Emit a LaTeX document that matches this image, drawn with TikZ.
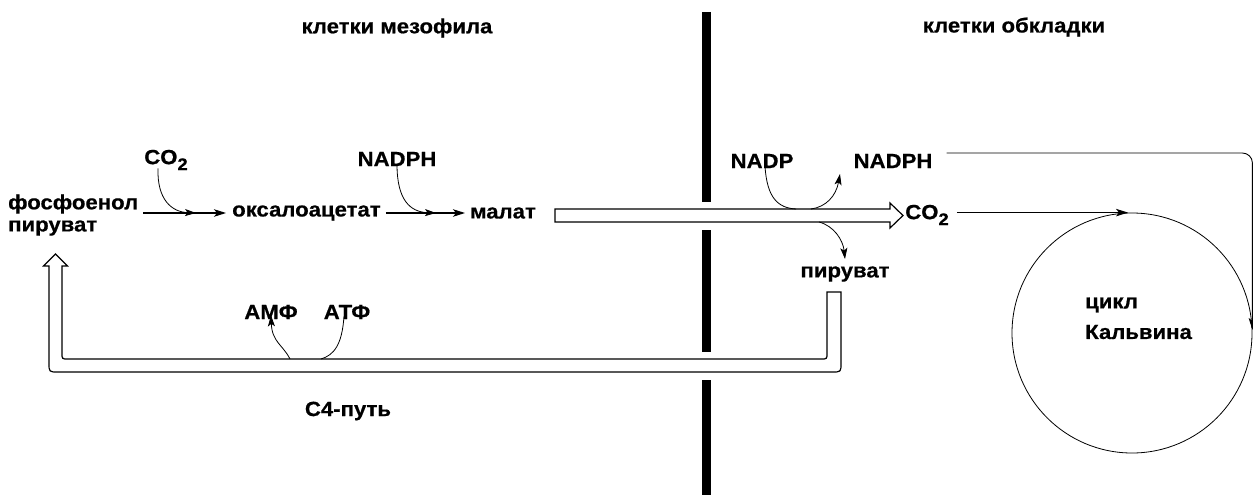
\documentclass[tikz,border=0pt]{standalone}
\usepackage{fontspec}
\setmainfont{Liberation Sans}[FakeStretch=1.08, BoldFeatures={FakeBold=0.6}]
\usetikzlibrary{arrows.meta}
\tikzset{
  lbl/.style={inner sep=0pt, font=\bfseries\fontsize{20.5}{22}\selectfont},
  tube/.style={line width=1.2pt, line join=miter, fill=white},
  arr/.style={line width=1.1pt, -{Stealth[length=12pt,width=7.5pt,inset=3pt]}},
  carr/.style={line width=0.8pt, -{Stealth[length=11pt,width=7pt,inset=2.5pt]}},
  cline/.style={line width=0.8pt},
  wall/.style={line width=9pt, line cap=butt}
}
\newcommand{\cotwo}{CO\raisebox{-6pt}{\fontsize{17}{17}\selectfont 2}}
\begin{document}
\begin{tikzpicture}[x=1pt,y=-1pt]
\useasboundingbox (0,0) rectangle (1253,495);
% membrane wall
\draw[wall] (706.5,12) -- (706.5,202);
\draw[wall] (706.5,230) -- (706.5,352);
\draw[wall] (706.5,380) -- (706.5,495);
% headers
\node[lbl] (mes) at (397,28) {клетки мезофила};
\node[lbl] (obk) at (1014,27) {клетки обкладки};
% left part
\node[lbl] (co2a) at (166,160) {\cotwo};
\node[lbl] (nadph1) at (397,159) {NADPH};
\node[lbl,anchor=west] (pep1) at (8,204) {фосфоенол};
\node[lbl,anchor=west] (pep2) at (8,228) {пируват};
\node[lbl,anchor=west] (oxa) at (232,213) {оксалоацетат};
\node[lbl,anchor=west] (mal) at (470,213) {малат};
\draw[arr] ([xshift=5pt]pep1.east |- oxa.west) -- ([xshift=-6pt]oxa.west);
\draw[arr] ([xshift=5pt]oxa.east) -- ([xshift=-5pt]mal.west);
\draw[carr] ([xshift=-8pt,yshift=2pt]co2a.south) .. controls (157,200) and (172,212) .. (196,213);
\draw[carr] ([yshift=2pt]nadph1.south) .. controls (397,200) and (410,212) .. (436,213);
% right part
\node[lbl] (nadp) at (762,161) {NADP};
\node[lbl] (nadph2) at (893,161) {NADPH};
\node[lbl] (co2b) at (927,215) {\cotwo};
\node[lbl] (pyr) at (845,274) {пируват};
% hollow arrow malate -> CO2
\draw[tube] (555,209) -- (890,209) -- (890,203) -- (903,215.5) -- (890,228) -- (890,222) -- (555,222) -- cycle;
\draw[cline] ([xshift=3pt,yshift=2pt]nadp.south) .. controls (767,198) and (778,208) .. (796,209);
\draw[carr] (811,209) .. controls (826,207) and (836,196) .. (840,174);
\draw[carr] (819,222) .. controls (834,226) and (843,240) .. (845,259);
% Calvin cycle
\node[circle, draw, line width=0.8pt, minimum size=240pt, inner sep=0pt] (cal) at (1132,333) {};
\node[lbl,anchor=west] (cyc1) at (1085,305) {цикл};
\node[lbl,anchor=west] (cyc2) at (1085,332) {Кальвина};
\draw[arr] ([xshift=8pt]co2b.east |- cal.north) -- ([xshift=-4pt]cal.north);
\draw[arr, line width=0.9pt, rounded corners=10pt] ([xshift=14pt]nadph2.east |- 0,153) -- (cal.east |- 0,153) -- ([yshift=3pt]cal.east);
% U-shaped hollow arrow pyruvate -> PEP
\draw[tube] (827,292) -- (841,292) -- (841,363) .. controls (841,372) .. (832,372) -- (58,372) .. controls (49,372) .. (49,363) -- (49,266) -- (43.5,266) -- (55.5,254) -- (67.5,266) -- (62,266) -- (62,353) .. controls (62,359) .. (68,359) -- (821,359) .. controls (827,359) .. (827,353) -- cycle;
\node[lbl] (amf) at (271,312) {АМФ};
\node[lbl] (atf) at (347,312) {АТФ};
\draw[carr] (290,359) .. controls (283,345) and (272,342) .. ([yshift=4pt]amf.south);
\draw[cline] ([xshift=-3pt,yshift=3pt]atf.south) .. controls (342,345) and (334,355) .. (321,359);
\node[lbl] (c4) at (348,411) {С4-путь};
\end{tikzpicture}
\end{document}
